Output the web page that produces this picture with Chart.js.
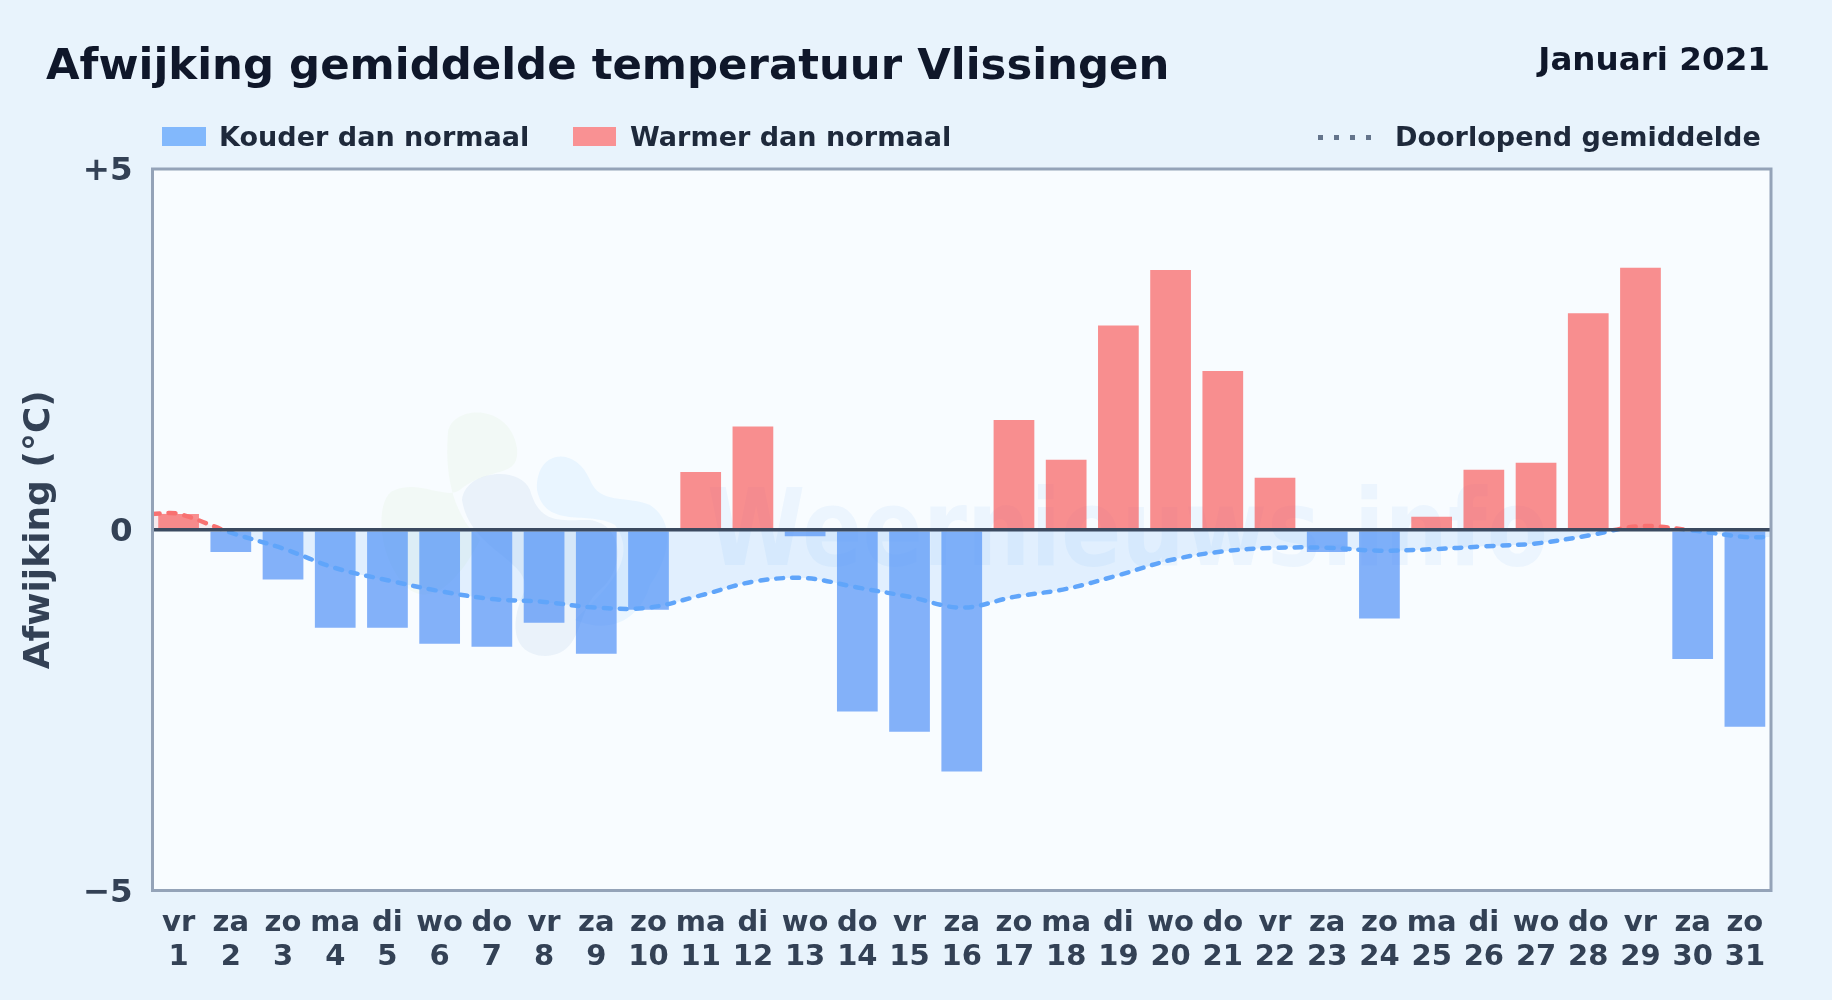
<!DOCTYPE html>
<html lang="nl">
<head>
<meta charset="utf-8">
<title>Afwijking gemiddelde temperatuur Vlissingen</title>
<script src="https://cdn.jsdelivr.net/npm/chart.js@4/dist/chart.umd.min.js"></script>
<style>
  html, body { margin: 0; padding: 0; width: 1832px; height: 1000px; overflow: hidden; background: #e8f3fc; }
  body { position: relative; font-family: "DejaVu Sans", sans-serif; font-weight: bold; }
  canvas { position: absolute; left: 0; top: 0; }
  .txt { position: absolute; white-space: nowrap; line-height: 1; }
  .swatch { position: absolute; top: 127px; height: 19px; }
  #title { left: 46px; top: 43px; font-size: 43.4px; color: #0f172a; }
  #period { right: 62px; top: 43px; font-size: 32.6px; color: #0f172a; }
  .leg { top: 123px; font-size: 27.05px; color: #1e293b; }
  #dots { position: absolute; left: 1318px; top: 135px; width: 58px; height: 5px; }
</style>
</head>
<body>
<canvas id="chart" width="1832" height="1000"></canvas>
<div class="txt" id="title">Afwijking gemiddelde temperatuur Vlissingen</div>
<div class="txt" id="period">Januari 2021</div>
<div class="swatch" style="left:162px;width:44px;background:#82b8fc"></div>
<div class="txt leg" style="left:219px">Kouder dan normaal</div>
<div class="swatch" style="left:573px;width:43px;background:#f99193"></div>
<div class="txt leg" style="left:630px">Warmer dan normaal</div>
<svg id="dots"><line x1="0" y1="2.5" x2="58" y2="2.5" stroke="#64748b" stroke-width="5" stroke-dasharray="5 11"/></svg>
<div class="txt leg" style="left:1395px">Doorlopend gemiddelde</div>

<script>
const weekdays = ['vr','za','zo','ma','di','wo','do','vr','za','zo','ma','di','wo','do','vr','za','zo','ma','di','wo','do','vr','za','zo','ma','di','wo','do','vr','za','zo'];
const days = [1,2,3,4,5,6,7,8,9,10,11,12,13,14,15,16,17,18,19,20,21,22,23,24,25,26,27,28,29,30,31];
const deviation = [0.22,-0.31,-0.69,-1.36,-1.36,-1.58,-1.62,-1.29,-1.72,-1.11,0.80,1.43,-0.09,-2.52,-2.80,-3.35,1.52,0.97,2.83,3.60,2.20,0.72,-0.31,-1.23,0.18,0.83,0.93,3.00,3.63,-1.79,-2.73];
const runningX = [0.5,1,2,3,4,5,6,7,8,9,10,11,12,13,14,15,16,17,18,19,20,21,22,23,24,25,26,27,28,29,30,31,31.5];
const runningMean = [0.22,0.22,-0.04,-0.26,-0.53,-0.70,-0.85,-0.96,-1.00,-1.08,-1.08,-0.91,-0.72,-0.67,-0.80,-0.93,-1.08,-0.93,-0.82,-0.63,-0.42,-0.30,-0.25,-0.25,-0.29,-0.27,-0.23,-0.19,-0.08,0.05,-0.01,-0.10,-0.10];
const yTicks = { '5': '+5', '0': '0', '-5': '\u22125' };

const fontFamily = '"DejaVu Sans", sans-serif';

// plot background, watermark and frame
const plotDecor = {
  id: 'plotDecor',
  beforeDatasetsDraw(chart) {
    const { ctx, chartArea: a } = chart;
    ctx.save();
    ctx.fillStyle = '#f8fcff';
    ctx.fillRect(a.left, a.top, a.width, a.height);
    ctx.beginPath();
    ctx.rect(a.left, a.top, a.width, a.height);
    ctx.clip();

    ctx.fillStyle = 'rgba(190,225,150,0.09)';
    ctx.beginPath();
    ctx.moveTo(448, 432);
    ctx.bezierCurveTo(452, 405, 510, 402, 517, 448);
    ctx.bezierCurveTo(520, 480, 490, 465, 460, 490);
    ctx.bezierCurveTo(445, 500, 420, 480, 395, 490);
    ctx.bezierCurveTo(375, 495, 375, 560, 410, 590);
    ctx.bezierCurveTo(440, 610, 470, 560, 480, 540);
    ctx.bezierCurveTo(450, 510, 445, 470, 448, 432);
    ctx.fill();

    ctx.fillStyle = 'rgba(60,110,190,0.07)';
    ctx.beginPath();
    ctx.moveTo(462, 500);
    ctx.bezierCurveTo(465, 470, 520, 465, 530, 490);
    ctx.bezierCurveTo(540, 525, 560, 520, 590, 520);
    ctx.bezierCurveTo(625, 525, 625, 570, 600, 590);
    ctx.bezierCurveTo(575, 610, 585, 655, 545, 656);
    ctx.bezierCurveTo(510, 655, 510, 620, 525, 590);
    ctx.bezierCurveTo(530, 560, 470, 550, 462, 500);
    ctx.fill();

    ctx.fillStyle = 'rgba(90,180,250,0.09)';
    ctx.beginPath();
    ctx.moveTo(537, 490);
    ctx.bezierCurveTo(535, 450, 575, 445, 590, 480);
    ctx.bezierCurveTo(600, 505, 625, 495, 650, 505);
    ctx.bezierCurveTo(680, 525, 665, 565, 650, 585);
    ctx.bezierCurveTo(640, 620, 610, 635, 575, 620);
    ctx.bezierCurveTo(605, 590, 640, 560, 615, 525);
    ctx.bezierCurveTo(590, 510, 545, 530, 537, 490);
    ctx.fill();

    ctx.fillStyle = 'rgba(59,130,246,0.06)';
    ctx.font = 'bold 107px ' + fontFamily;
    ctx.textBaseline = 'alphabetic';
    ctx.fillText('Weernieuws.info', 707, 565, 841);
    ctx.restore();
  },
  afterDraw(chart) {
    const { ctx, chartArea: a } = chart;
    ctx.save();
    ctx.strokeStyle = '#94a3b8';
    ctx.lineWidth = 3;
    ctx.strokeRect(a.left, a.top, a.width, a.height);
    ctx.restore();
  }
};

function lineGradient(context) {
  const { chart } = context;
  const a = chart.chartArea;
  if (!a) return '#60a5fa';
  const g = chart.ctx.createLinearGradient(0, a.top, 0, a.bottom);
  const stop = (chart.scales.y.getPixelForValue(0) - a.top) / a.height;
  g.addColorStop(0, '#f87171');
  g.addColorStop(stop, '#f87171');
  g.addColorStop(stop, '#60a5fa');
  g.addColorStop(1, '#60a5fa');
  return g;
}

new Chart(document.getElementById('chart').getContext('2d'), {
  type: 'bar',
  plugins: [plotDecor],
  data: {
    labels: days.map((d, i) => [weekdays[i], String(d)]),
    datasets: [
      {
        type: 'line',
        label: 'Doorlopend gemiddelde',
        xAxisID: 'xLine',
        data: runningX.map((x, i) => ({ x: x, y: runningMean[i] })),
        borderColor: lineGradient,
        borderWidth: 4.5,
        borderDash: [7, 9],
        borderCapStyle: 'round',
        pointRadius: 0,
        tension: 0.35,
        fill: { target: 'origin', above: 'rgba(248,113,113,0.12)', below: 'rgba(96,165,250,0.15)' },
        order: 1
      },
      {
        label: 'Afwijking',
        data: deviation,
        grouped: false,
        backgroundColor: deviation.map(v => v < 0 ? 'rgba(59,130,246,0.62)' : 'rgba(248,74,74,0.62)'),
        barPercentage: 0.78,
        categoryPercentage: 1,
        order: 2
      }
    ]
  },
  options: {
    responsive: false,
    animation: false,
    devicePixelRatio: 1,
    layout: { padding: { top: 169, right: 61, bottom: 0, left: 0 } },
    plugins: { legend: { display: false }, title: { display: false }, tooltip: { enabled: false } },
    scales: {
      x: {
        grid: { display: false, drawTicks: false },
        border: { display: false },
        afterFit(scale) { scale.height = 109.5; },
        ticks: {
          autoSkip: false,
          maxRotation: 0,
          padding: 16,
          color: '#334155',
          font: { family: fontFamily, weight: 'bold', size: 29, lineHeight: 1.17 }
        }
      },
      xLine: { type: 'linear', display: false, offset: false, min: 0.5, max: 31.5 },
      y: {
        min: -5,
        max: 5,
        afterFit(scale) { scale.width = 152.5; },
        border: { display: false },
        grid: {
          z: 1,
          drawTicks: false,
          color: c => c.tick.value === 0 ? '#3b4a60' : 'transparent',
          lineWidth: 3.5
        },
        ticks: {
          stepSize: 5,
          padding: 20,
          labelOffset: 3,
          color: '#334155',
          font: { family: fontFamily, weight: 'bold', size: 32.5 },
          callback: v => yTicks[String(v)]
        },
        title: {
          display: true,
          text: 'Afwijking (\u00b0C)',
          color: '#334155',
          font: { family: fontFamily, weight: 'bold', size: 36 },
          padding: { top: 18, bottom: 0 }
        }
      }
    }
  }
});
</script>
</body>
</html>
